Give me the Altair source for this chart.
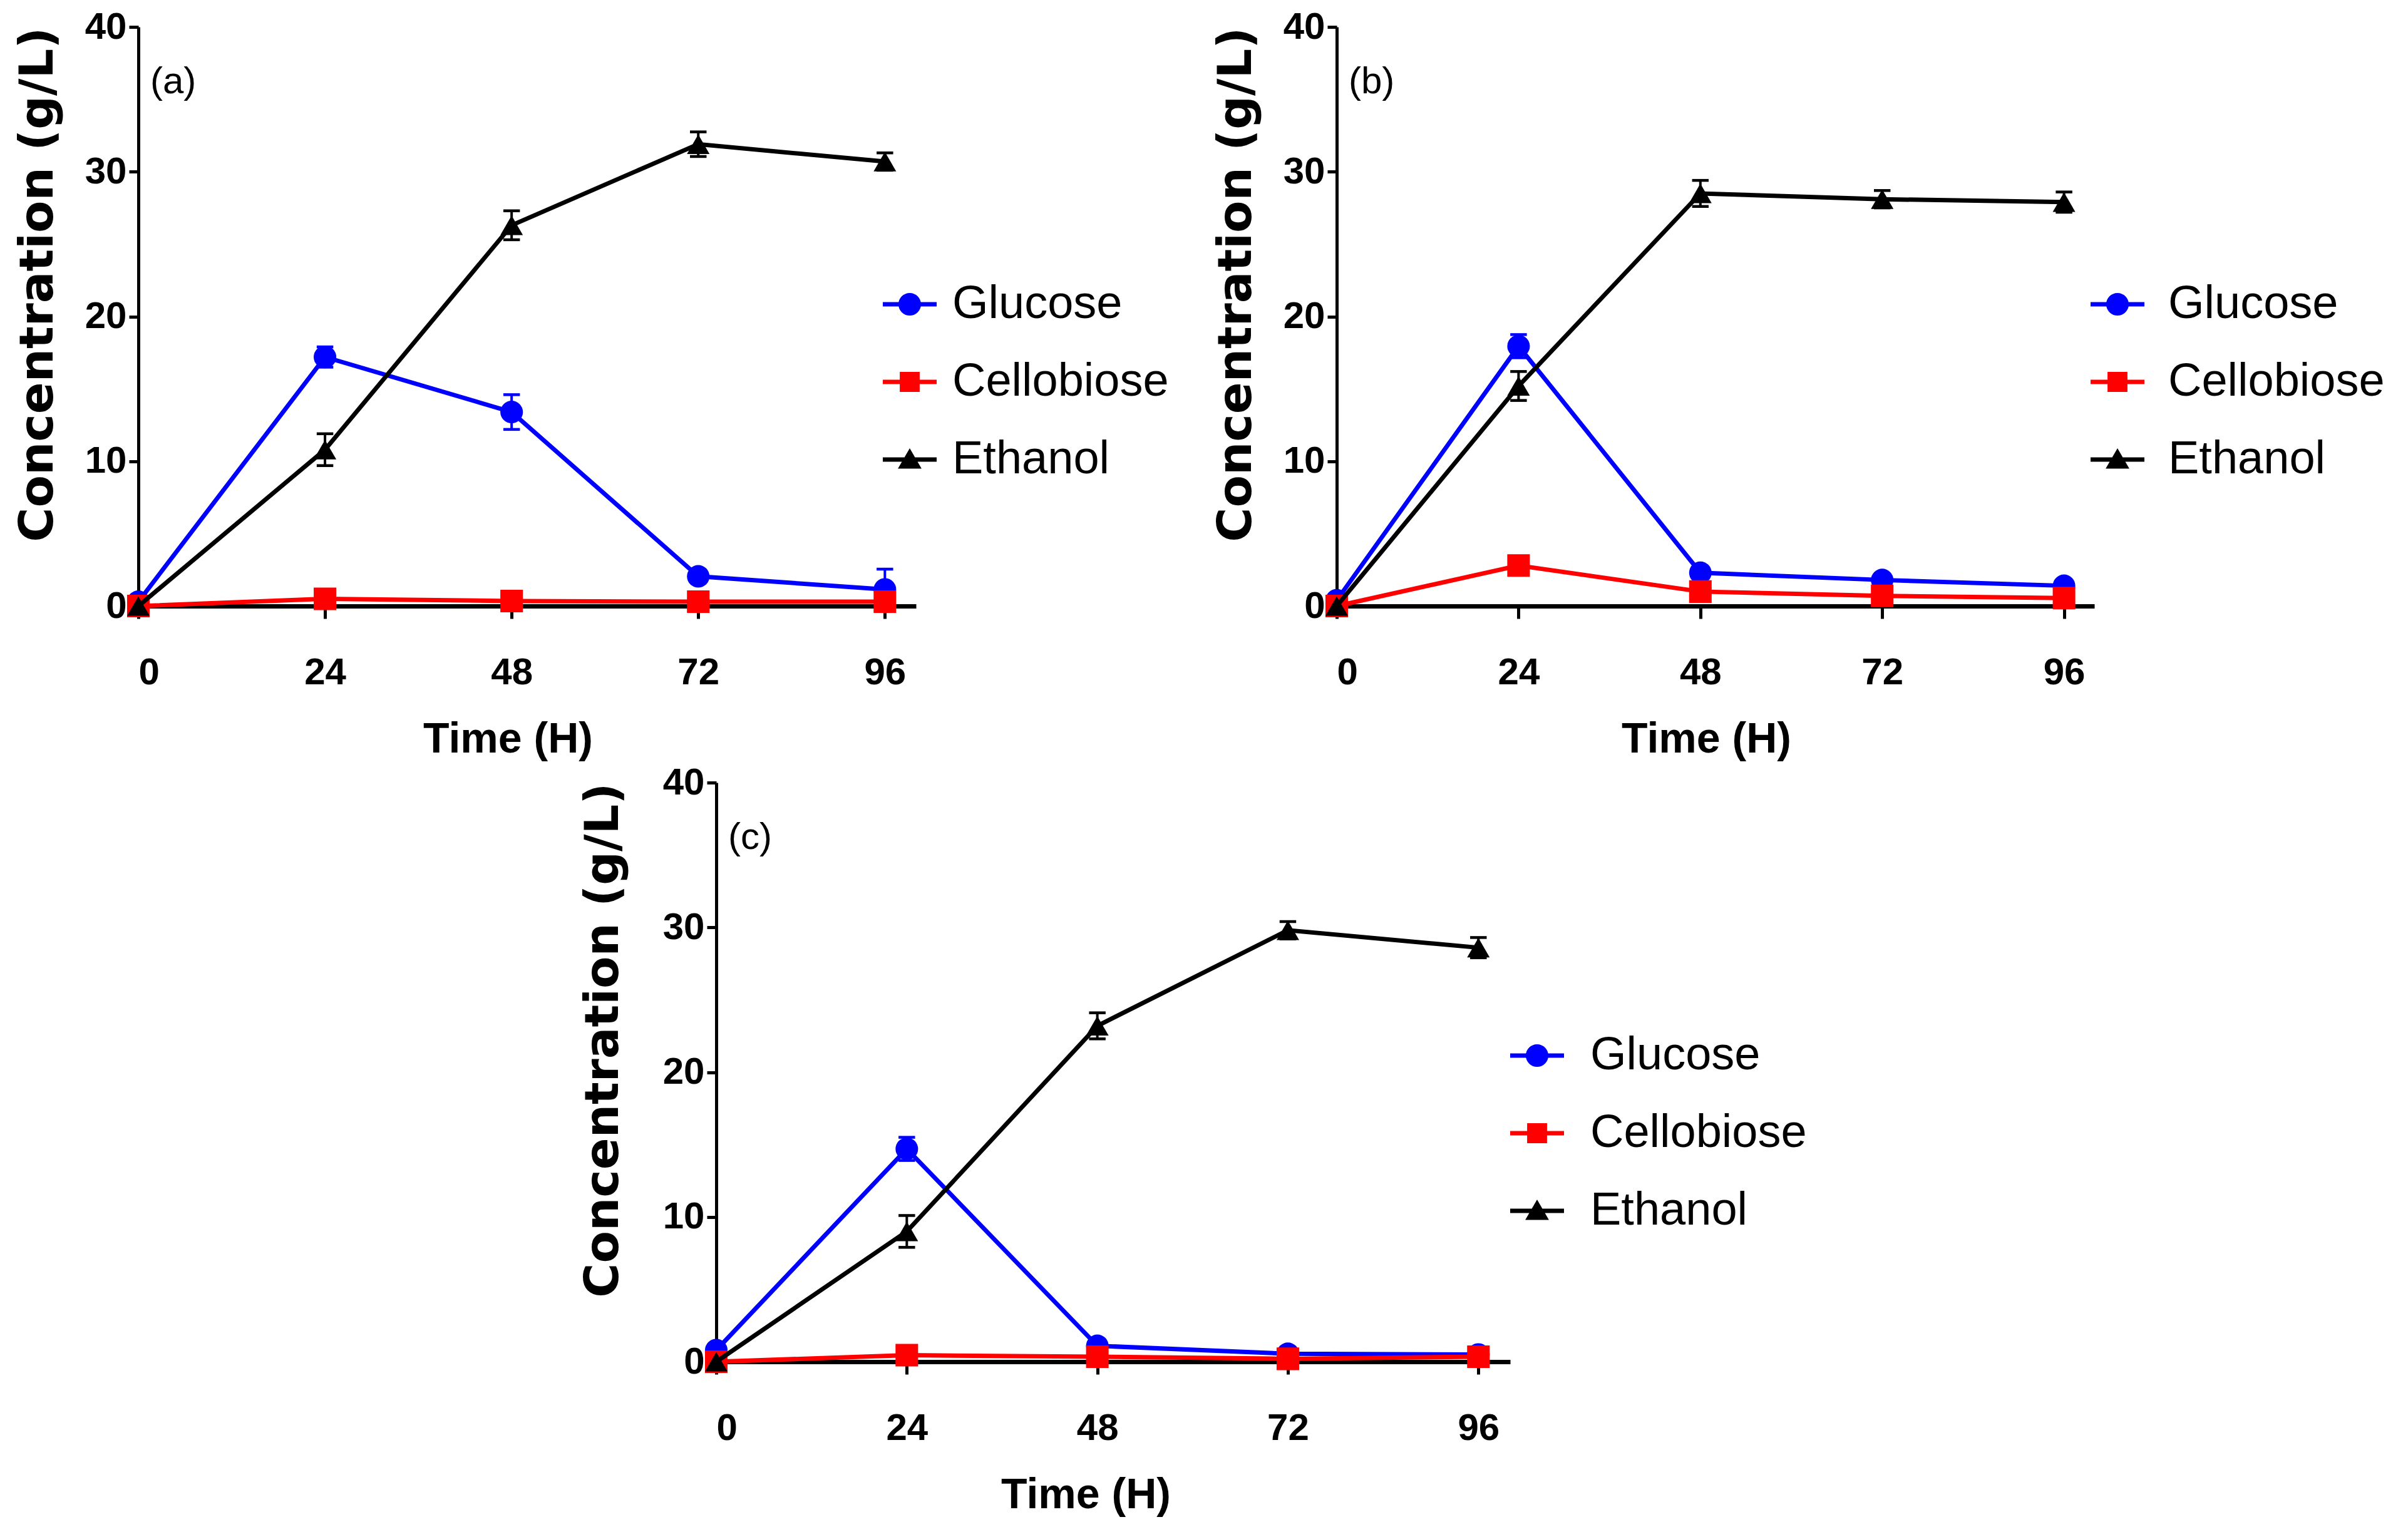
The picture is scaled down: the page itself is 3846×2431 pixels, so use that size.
import altair as alt
import pandas as pd

times = [0, 24, 48, 72, 96]
series_names = ["Glucose", "Cellobiose", "Ethanol"]
series_colors = ["#0000ff", "#ff0000", "#000000"]
point_shapes = ["circle", "square", "triangle-up"]

# legend symbols: a short line with the marker on it (unit coordinates)
legend_paths = [
    "M-1,-0.08H1V0.08H-1Z M0.42,0A0.42,0.42 0 1,1 -0.42,0A0.42,0.42 0 1,1 0.42,0Z",
    "M-1,-0.08H1V0.08H-1Z M-0.37,-0.37H0.37V0.37H-0.37Z",
    "M-1,-0.08H1V0.08H-1Z M0,-0.42L0.44,0.34H-0.44Z",
]

# panel (a)
a_glucose = [0.3, 17.2, 13.4, 2.05, 1.15]
a_glucose_err = [0.2, 0.7, 1.2, 0.3, 1.4]
a_cellobiose = [0.0, 0.5, 0.35, 0.3, 0.3]
a_cellobiose_err = [0.0, 0.1, 0.1, 0.1, 0.1]
a_ethanol = [0.0, 10.8, 26.3, 31.9, 30.7]
a_ethanol_err = [0.0, 1.1, 1.0, 0.85, 0.6]

# panel (b)
b_glucose = [0.4, 17.95, 2.3, 1.8, 1.4]
b_glucose_err = [0.2, 0.8, 0.3, 0.3, 0.3]
b_cellobiose = [0.0, 2.8, 1.0, 0.7, 0.55]
b_cellobiose_err = [0.0, 0.2, 0.1, 0.1, 0.1]
b_ethanol = [0.0, 15.2, 28.5, 28.1, 27.9]
b_ethanol_err = [0.0, 1.0, 0.9, 0.6, 0.7]

# panel (c)
c_glucose = [0.8, 14.7, 1.1, 0.55, 0.5]
c_glucose_err = [0.2, 0.8, 0.2, 0.2, 0.2]
c_cellobiose = [0.0, 0.45, 0.35, 0.2, 0.35]
c_cellobiose_err = [0.0, 0.1, 0.1, 0.1, 0.1]
c_ethanol = [0.0, 9.0, 23.2, 29.8, 28.6]
c_ethanol_err = [0.0, 1.1, 0.9, 0.6, 0.7]

label_font = "Liberation Sans Narrow, Liberation Sans, Arial"


def make_frame(glu, glu_err, cel, cel_err, eth, eth_err):
    rows = []
    for name, vals, errs in [("Glucose", glu, glu_err), ("Cellobiose", cel, cel_err), ("Ethanol", eth, eth_err)]:
        for t, v, e in zip(times, vals, errs):
            rows.append({"time": t, "series": name, "value": v, "err": e, "lo": v - e, "hi": v + e})
    return pd.DataFrame(rows)


def panel(tag, df, width, legend_x, legend_y, label_offset, title_pad):
    base = alt.Chart(df)
    x = alt.X("time:Q", scale=alt.Scale(domain=[0, 100]),
              axis=alt.Axis(values=times, title="Time (H)", titleX=590))

    def yenc(field):
        return alt.Y(field + ":Q", scale=alt.Scale(domain=[0, 40]),
                     axis=alt.Axis(values=[0, 10, 20, 30, 40], title="Concentration (g/L)",
                                   titlePadding=title_pad))

    layers = []
    for name, col, shp in zip(series_names, series_colors, point_shapes):
        sub = base.transform_filter(alt.datum.series == name)
        err = sub.transform_filter("datum.err > 0")
        layers.append(err.mark_rule(strokeWidth=4, color=col).encode(x=x, y=yenc("lo"), y2="hi:Q"))
        layers.append(err.mark_point(shape="stroke", size=700, strokeWidth=4.5, opacity=1, color=col)
                      .encode(x=x, y=yenc("hi")))
        layers.append(err.mark_point(shape="stroke", size=700, strokeWidth=4.5, opacity=1, color=col)
                      .encode(x=x, y=yenc("lo")))
    for name, col, shp in zip(series_names, series_colors, point_shapes):
        sub = base.transform_filter(alt.datum.series == name)
        layers.append(sub.mark_line(strokeWidth=7, color=col).encode(x=x, y=yenc("value"), order="time:Q"))
        layers.append(sub.mark_point(shape=shp, filled=True, size=1300, opacity=1, color=col)
                      .encode(x=x, y=yenc("value")))

    leg = alt.Legend(orient="none", legendX=legend_x, legendY=legend_y, title=None,
                     labelFont="Liberation Sans", labelFontSize=74, labelColor="black",
                     labelOffset=label_offset, rowPadding=44, symbolStrokeWidth=0, symbolSize=7396,
                     labelLimit=1000, symbolOpacity=1, padding=0)
    # invisible marks that only carry the legend
    legend_layer = base.transform_filter("datum.time == 0").mark_point(filled=True, size=7396, opacity=0).encode(
        x=x, y=yenc("value"),
        color=alt.Color("series:N", scale=alt.Scale(domain=series_names, range=series_colors), legend=leg),
        shape=alt.Shape("series:N", scale=alt.Scale(domain=series_names, range=legend_paths), legend=leg),
    )
    layers.append(legend_layer)

    return alt.layer(*layers).properties(
        width=width, height=925,
        title=alt.TitleParams(tag, anchor="start", frame="group", dx=19, dy=149, offset=0,
                              baseline="top", fontSize=60, fontWeight="normal",
                              font="Liberation Sans Narrow, Liberation Sans", color="black"),
    )


pa = panel("(a)", make_frame(a_glucose, a_glucose_err, a_cellobiose, a_cellobiose_err, a_ethanol, a_ethanol_err),
           1242, 1189, 400, 25, 36)
pb = panel("(b)", make_frame(b_glucose, b_glucose_err, b_cellobiose, b_cellobiose_err, b_ethanol, b_ethanol_err),
           1210, 1204, 400, 38, 36)
pc = panel("(c)", make_frame(c_glucose, c_glucose_err, c_cellobiose, c_cellobiose_err, c_ethanol, c_ethanol_err),
           1268, 1268, 393, 42, 56)

top_row = alt.hconcat(pa, pb, spacing=70).resolve_scale(
    color="independent", shape="independent").resolve_legend(color="independent", shape="independent")

chart = alt.vconcat(top_row, pc, spacing=5, center=True).resolve_scale(
    color="independent", shape="independent").resolve_legend(
    color="independent", shape="independent").properties(
    padding={"left": 15, "top": 5, "right": 5, "bottom": 5}
).configure_view(
    stroke=None
).configure_axis(
    grid=False, domainColor="black", tickColor="black", tickWidth=5, domainWidth=5,
    labelColor="black", labelFont=label_font, labelFontWeight="bold", labelFontSize=60,
    titleColor="black",
).configure_axisY(
    tickSize=15, labelPadding=4, titleFont="DejaVu Sans", titleFontWeight="bold", titleFontSize=75,
    titleAnchor="end",
).configure_axisX(
    tickSize=20, labelPadding=57, domainWidth=7, titleFont=label_font, titleFontWeight="bold",
    titleFontSize=68, titlePadding=43,
)

chart.save("out.html", embed_options={"renderer": "svg", "actions": False})
